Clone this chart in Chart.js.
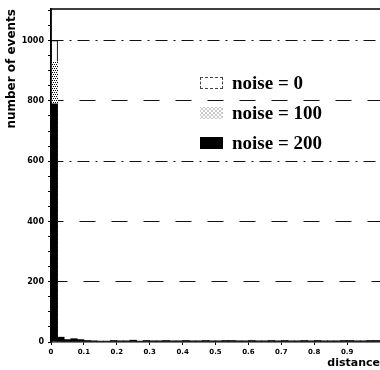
<!DOCTYPE html>
<html>
<head>
<meta charset="utf-8">
<script src="https://cdn.jsdelivr.net/npm/chart.js@4/dist/chart.umd.min.js"></script>
<style>
  html, body { margin: 0; padding: 0; background: #fff; }
  #wrap { position: relative; width: 380px; height: 370px; overflow: hidden; }
  #legend { position: absolute; left: 200px; top: 68px; font-family: "Liberation Serif", serif; font-weight: bold; font-size: 19px; color: #000; }
  .row { display: flex; align-items: center; height: 30px; }
  .sw { width: 23px; height: 12px; margin-right: 9px; box-sizing: border-box; }
  .s0 { border: 1px dashed #444; background: #fff; }
  .s1 { background-color: #fff; background-image: radial-gradient(#555 0.5px, transparent 0.8px), radial-gradient(#555 0.5px, transparent 0.8px); background-size: 4px 4px; background-position: 0 0, 2px 2px; }
  .s2 { background: #000; }
</style>
</head>
<body>
<div id="wrap">
  <canvas id="c" width="380" height="370"></canvas>
  <div id="legend"></div>
</div>
<script>
// ---- data ----
const seriesNames = ["noise = 0", "noise = 100", "noise = 200"];
const binWidth = 0.02;
const binStarts = [0,0.02,0.04,0.06,0.08,0.1,0.12,0.14,0.16,0.18,0.2,0.22,0.24,0.26,0.28,0.3,0.32,0.34,0.36,0.38,0.4,0.42,0.44,0.46,0.48,0.5,0.52,0.54,0.56,0.58,0.6,0.62,0.64,0.66,0.68,0.7,0.72,0.74,0.76,0.78,0.8,0.82,0.84,0.86,0.88,0.9,0.92,0.94,0.96,0.98];
const noise0 = [1000,0,0,0,0,0,0,0,0,0,0,0,0,0,0,0,0,0,0,0,0,0,0,0,0,0,0,0,0,0,0,0,0,0,0,0,0,0,0,0,0,0,0,0,0,0,0,0,0,0];
const noise100 = [930,8,4,6,4,2,2,1,1,2,2,2,3,1,2,2,2,1,2,2,2,2,2,1,2,2,2,1,2,2,2,2,1,2,2,2,1,2,2,2,2,1,2,2,2,2,1,2,2,2];
const noise200 = [790,16,8,11,8,5,4,3,3,5,4,4,6,3,5,4,4,5,4,4,5,4,4,5,4,4,5,5,4,4,5,4,4,5,4,5,4,4,5,4,5,4,4,4,5,5,4,4,5,5];
const yTickValues = [0,200,400,600,800,1000];
const xTickLabels = ["0","0.1","0.2","0.3","0.4","0.5","0.6","0.7","0.8","0.9"];

// dotted pattern
function makeDots() {
  const p = document.createElement('canvas');
  p.width = 4; p.height = 4;
  const g = p.getContext('2d');
  g.fillStyle = '#fff'; g.fillRect(0,0,4,4);
  g.fillStyle = '#000';
  g.fillRect(0,0,1,1); g.fillRect(2,0,1,1); g.fillRect(1,2,1,1); g.fillRect(3,2,1,1);
  return g.createPattern(p, 'repeat');
}
const ctx = document.getElementById('c').getContext('2d');
const dots = makeDots();

function pts(vals) { return vals.map((v,i) => ({x: binStarts[i] + binWidth/2, y: v})); }

const frame = {
  id: 'frame',
  afterDraw(chart) {
    const a = chart.chartArea, c = chart.ctx;
    c.save();
    c.strokeStyle = '#000'; c.lineWidth = 1.5;
    c.beginPath(); c.moveTo(a.left, a.bottom); c.lineTo(a.left, a.top); c.lineTo(a.right, a.top); c.stroke();
    c.restore();
  }
};

new Chart(ctx, {
  type: 'bar',
  data: {
    datasets: [
      { label: seriesNames[0], data: pts(noise0), backgroundColor: '#fff', borderColor: '#000', borderWidth: 1, order: 3 },
      { label: seriesNames[1], data: pts(noise100), backgroundColor: dots, borderWidth: 0, order: 2 },
      { label: seriesNames[2], data: pts(noise200), backgroundColor: '#000', borderWidth: 0, order: 1 }
    ]
  },
  options: {
    responsive: false,
    animation: false,
    grouped: false,
    barPercentage: 1,
    categoryPercentage: 1,
    layout: { padding: { top: 9, right: 0, left: 0, bottom: 0 } },
    plugins: { legend: { display: false }, tooltip: { enabled: false } },
    scales: {
      x: {
        type: 'linear', min: 0, max: 1, offset: false,
        afterFit: s => { s.height = 28; },
        afterBuildTicks: s => { s.ticks = xTickLabels.map((t,i) => ({value: i/10})); },
        ticks: { color: '#000', font: { family: 'DejaVu Sans', size: 7, weight: 'bold' }, padding: 3, maxRotation: 0, autoSkip: false,
                 callback: (v, i) => xTickLabels[i] },
        grid: { drawOnChartArea: false, tickLength: 3, tickColor: '#000', offset: false },
        border: { display: true, color: '#000', width: 1.5 },
        title: { display: true, text: 'distance', align: 'end', color: '#000', font: { family: 'DejaVu Sans', size: 11, weight: 'bold' }, padding: { top: 0, bottom: 0 } }
      },
      y: {
        min: 0, max: 1105,
        afterFit: s => { s.width = 51; },
        afterBuildTicks: s => {
          const t = [];
          for (let v = 0; v <= 1100; v += 50) t.push({value: v});
          s.ticks = t;
        },
        ticks: { color: '#000', font: { family: 'DejaVu Sans', size: 8, weight: 'bold' }, padding: 4, autoSkip: false,
                 callback: v => yTickValues.includes(v) ? String(v) : '' },
        grid: {
          tickLength: 3, tickColor: '#000', lineWidth: 1,
          color: c => (c.tick && c.tick.value > 0 && c.tick.value % 200 === 0) ? '#111' : 'rgba(0,0,0,0)'
        },
        border: {
          display: true, color: '#000', width: 1.5,
          dash: c => {
            if (!c.tick) return [];
            const v = c.tick.value;
            return (v === 1000 || v === 600) ? [12, 6, 2, 6] : [16, 16];
          },
          dashOffset: c => (c.tick && c.tick.value % 400 === 0) ? 4 : 0
        },
        title: { display: true, text: 'number of events', align: 'end', color: '#000', font: { family: 'DejaVu Sans', size: 12, weight: 'bold' }, padding: { top: 5, bottom: 2 } }
      }
    }
  },
  plugins: [frame]
});

// legend
const lg = document.getElementById('legend');
seriesNames.forEach((n, i) => {
  const r = document.createElement('div'); r.className = 'row';
  const s = document.createElement('div'); s.className = 'sw s' + i;
  const t = document.createElement('span'); t.textContent = n;
  r.appendChild(s); r.appendChild(t); lg.appendChild(r);
});
</script>
</body>
</html>
